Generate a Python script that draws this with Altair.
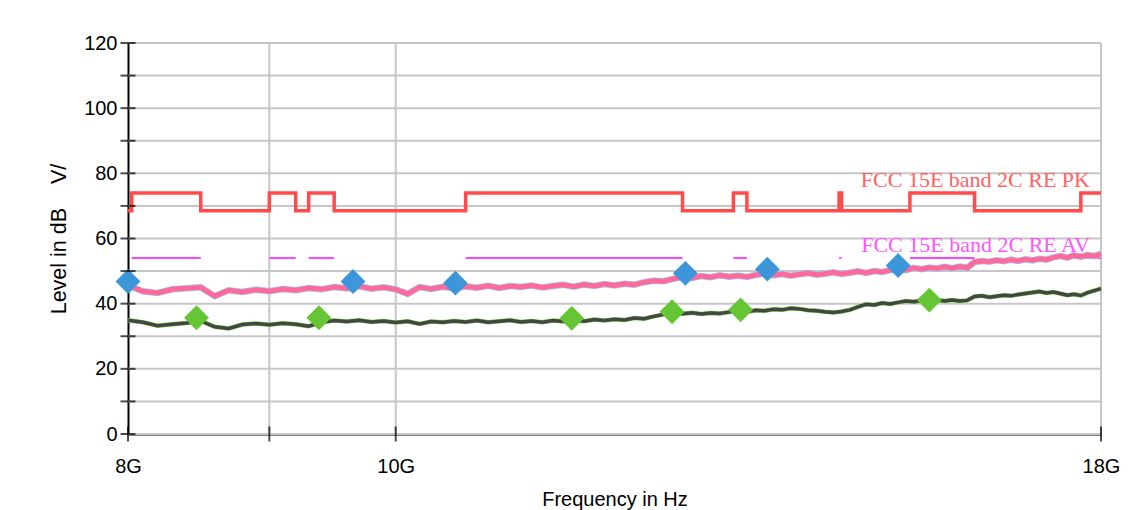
import altair as alt
import pandas as pd

# ---------------- data ----------------
freq_ghz = [8.0, 8.1, 8.2, 8.3, 8.4, 8.5, 8.6, 8.7, 8.8, 8.9,
            9.0, 9.1, 9.2, 9.3, 9.4, 9.5, 9.6, 9.7, 9.8, 9.9,
            10.0, 10.1, 10.2, 10.3, 10.4, 10.5, 10.6, 10.7, 10.8, 10.9,
            11.0, 11.1, 11.2, 11.3, 11.4, 11.5, 11.6, 11.7, 11.8, 11.9,
            12.0, 12.1, 12.2, 12.3, 12.4, 12.5, 12.6, 12.7, 12.8, 12.9,
            13.0, 13.1, 13.2, 13.3, 13.4, 13.5, 13.6, 13.7, 13.8, 13.9,
            14.0, 14.1, 14.2, 14.3, 14.4, 14.5, 14.6, 14.7, 14.8, 14.9,
            15.0, 15.1, 15.2, 15.3, 15.4, 15.5, 15.6, 15.7, 15.8, 15.9,
            16.0, 16.1, 16.2, 16.3, 16.4, 16.5, 16.6, 16.7, 16.8, 16.9,
            17.0, 17.1, 17.2, 17.3, 17.4, 17.5, 17.6, 17.7, 17.8, 17.9,
            18.0]

peak_level = [45.6, 43.8, 43.3, 44.4, 44.7, 45.0, 42.3, 44.1, 43.6, 44.3,
              43.8, 44.5, 44.1, 44.8, 44.4, 45.1, 44.7, 45.3, 44.6, 45.0,
              44.4, 43.0, 45.1, 44.5, 45.2, 44.7, 45.3, 44.9, 45.5, 44.8,
              45.4, 45.1, 45.6, 45.0, 45.4, 45.8, 45.2, 45.9, 45.4, 46.0,
              45.6, 46.1, 45.8, 46.6, 47.0, 46.9, 47.6, 48.2, 47.9, 48.5,
              48.1, 48.7, 48.3, 48.6, 48.2, 48.8, 49.3, 48.7, 49.1, 48.6,
              49.0, 49.4, 48.9, 49.2, 49.6, 49.1, 49.5, 49.9, 49.4, 50.0,
              49.7, 50.3, 50.8, 50.3, 51.0, 50.6, 51.1, 50.8, 51.3, 50.9,
              51.4, 51.0, 52.8, 53.1, 52.9, 53.3, 53.0, 53.5, 53.1, 53.6,
              53.3, 53.8, 53.5, 54.2, 54.6, 54.1, 54.8, 54.4, 54.9, 54.6,
              55.3]

avg_level = [34.9, 34.3, 33.2, 33.7, 34.1, 34.7, 32.9, 32.4, 33.6, 33.9,
             33.5, 34.0, 33.7, 33.1, 34.3, 34.8, 34.5, 34.9, 34.4, 34.7,
             34.2, 34.6, 33.8, 34.5, 34.3, 34.7, 34.4, 34.8, 34.3, 34.6,
             34.9, 34.4, 34.7, 34.3, 34.8, 34.5, 34.9, 34.6, 35.1, 34.8,
             35.2, 35.0, 35.6, 35.4, 36.1, 36.7, 37.3, 36.9, 37.2, 36.8,
             37.1, 37.0, 37.4, 37.8, 37.5, 38.0, 37.8, 38.3, 38.1, 38.6,
             38.4, 38.0, 37.8, 37.5, 37.3, 37.6, 38.1, 39.0, 39.8, 39.6,
             40.2, 39.9, 40.4, 40.8, 40.6, 41.0, 41.4, 41.1, 40.8, 41.1,
             40.8, 41.0, 42.2, 42.4, 42.0, 42.3, 42.6, 42.4, 42.8, 43.1,
             43.4, 43.7, 43.3, 43.6, 43.1, 42.6, 42.9, 42.5, 43.4, 44.0,
             44.6]

peak_marker_freq = [8.0, 9.65, 10.51, 12.73, 13.63, 15.20]
peak_marker_level = [46.8, 46.8, 46.3, 49.3, 50.6, 51.7]
avg_marker_freq = [8.47, 9.38, 11.58, 12.59, 13.33, 15.60]
avg_marker_level = [35.7, 35.7, 35.5, 37.5, 38.1, 41.1]

pk_limit_freq = [8.0, 8.025, 8.5, 9.0, 9.2, 9.3, 9.5, 10.6, 12.7, 13.25,
                 13.4, 14.47, 14.5, 15.35, 16.2, 17.7, 18.0]
pk_limit_level = [68.5, 74, 68.5, 74, 68.5, 74, 68.5, 74, 68.5, 74,
                  68.5, 74, 68.5, 74, 68.5, 74, 74]

av_band_start = [8.025, 9.0, 9.3, 10.6, 13.25, 14.47, 15.35, 17.7]
av_band_end = [8.5, 9.2, 9.5, 12.7, 13.4, 14.5, 16.2, 18.0]
av_limit_level = 54

x_tick_values = [8, 9, 10, 18]
x_tick_labels = ["8G", "", "10G", "18G"]
x_grid_values = [9, 10, 18]
y_tick_values = [0, 10, 20, 30, 40, 50, 60, 70, 80, 90, 100, 110, 120]

limit_names = ["FCC 15E band 2C RE PK", "FCC 15E band 2C RE AV"]
limit_label_levels = [74, 54]

# ---------------- tables ----------------
trace_df = pd.DataFrame({"f": freq_ghz, "pk": peak_level, "av": avg_level})
pk_mark_df = pd.DataFrame({"f": peak_marker_freq, "lvl": peak_marker_level})
av_mark_df = pd.DataFrame({"f": avg_marker_freq, "lvl": avg_marker_level})
pk_lim_df = pd.DataFrame({"f": pk_limit_freq, "lvl": pk_limit_level})
av_lim_df = pd.DataFrame({"f": av_band_start, "f2": av_band_end,
                          "lvl": [av_limit_level] * len(av_band_start)})
xt_df = pd.DataFrame({"f": x_tick_values, "lvl": [0] * len(x_tick_values)})
yt_df = pd.DataFrame({"f": [8] * len(y_tick_values), "lvl": y_tick_values})
ygrid_df = pd.DataFrame({"lvl": y_tick_values})
xgrid_df = pd.DataFrame({"f": x_grid_values})
lbl_df = pd.DataFrame({"f": [18, 18], "lvl": limit_label_levels,
                       "name": limit_names, "c": ["#ff6262", "#ff55ff"]})

FONT = "Liberation Sans"
GRID = "#c6c6c6"

label_expr = " : ".join(
    f"datum.value == {v} ? '{l}'" for v, l in zip(x_tick_values, x_tick_labels)
) + " : ''"

xscale = alt.Scale(type="log", domain=[8, 18], nice=False, zero=False)
yscale = alt.Scale(domain=[0, 120], nice=False, zero=True)

x_axis = alt.Axis(values=x_tick_values, labelExpr=label_expr, title="Frequency in Hz",
                  grid=False, ticks=False, domain=True, domainColor="black", domainWidth=2,
                  labelPadding=22, titlePadding=13, labelFont=FONT, titleFont=FONT,
                  labelFontSize=20, titleFontSize=20, labelColor="black", titleColor="black",
                  titleFontWeight="normal", labelFlush=False, labelOverlap=False)
y_axis = alt.Axis(values=y_tick_values,
                  labelExpr="datum.value % 20 == 0 ? datum.label : ''",
                  title="Level in dB\u00a0\u00a0\u00a0\u00a0V/", grid=False, ticks=False, domain=True,
                  domainColor="black", domainWidth=2, labelPadding=11, titlePadding=13,
                  labelFont=FONT, titleFont=FONT, labelFontSize=20, titleFontSize=21.5,
                  labelColor="black", titleColor="black", titleFontWeight="normal",
                  labelOverlap=False)

frame = alt.Chart(pd.DataFrame({"a": [0]})).mark_rect(
    fill="transparent", stroke="#cfcfcf", strokeWidth=2
).encode(x=alt.value(-123), x2=alt.value(1015), y=alt.value(-36), y2=alt.value(490))

ygrid = alt.Chart(ygrid_df).mark_rule(color=GRID, strokeWidth=2).encode(
    y=alt.Y("lvl:Q", scale=yscale, axis=y_axis))
xgrid = alt.Chart(xgrid_df).mark_rule(color=GRID, strokeWidth=2).encode(
    x=alt.X("f:Q", scale=xscale, axis=x_axis))

pk_limit = alt.Chart(pk_lim_df).mark_line(
    color="#ff4b4b", strokeWidth=3.5, interpolate="step-after"
).encode(x=alt.X("f:Q", scale=xscale), y=alt.Y("lvl:Q", scale=yscale))

av_limit = alt.Chart(av_lim_df).mark_rule(color="#ff44ff", strokeWidth=2).encode(
    x=alt.X("f:Q", scale=xscale), x2="f2:Q", y=alt.Y("lvl:Q", scale=yscale))

pk_under = alt.Chart(trace_df).mark_line(color="#9cc8f5", strokeWidth=6.5).encode(
    x=alt.X("f:Q", scale=xscale), y=alt.Y("pk:Q", scale=yscale))
pk_line = alt.Chart(trace_df).mark_line(color="#ff6a9a", strokeWidth=5).encode(
    x=alt.X("f:Q", scale=xscale), y=alt.Y("pk:Q", scale=yscale))
av_under = alt.Chart(trace_df).mark_line(color="#7ad64a", strokeWidth=4.5).encode(
    x=alt.X("f:Q", scale=xscale), y=alt.Y("av:Q", scale=yscale))
av_line = alt.Chart(trace_df).mark_line(color="#454545", strokeWidth=3.5).encode(
    x=alt.X("f:Q", scale=xscale), y=alt.Y("av:Q", scale=yscale))

pk_marks = alt.Chart(pk_mark_df).mark_point(
    shape="diamond", filled=True, size=620, color="#3d96d9", opacity=1
).encode(x=alt.X("f:Q", scale=xscale), y=alt.Y("lvl:Q", scale=yscale))
av_marks = alt.Chart(av_mark_df).mark_point(
    shape="diamond", filled=True, size=620, color="#66c535", opacity=1
).encode(x=alt.X("f:Q", scale=xscale), y=alt.Y("lvl:Q", scale=yscale))

labels = alt.Chart(lbl_df).mark_text(
    align="right", baseline="alphabetic", dx=-11, dy=-6,
    font="Liberation Serif", fontSize=22
).encode(x=alt.X("f:Q", scale=xscale), y=alt.Y("lvl:Q", scale=yscale),
         text="name:N", color=alt.Color("c:N", scale=None))

x_ticks = alt.Chart(xt_df).mark_tick(orient="vertical", size=15, thickness=2, color="black").encode(
    x=alt.X("f:Q", scale=xscale), y=alt.Y("lvl:Q", scale=yscale))
y_ticks = alt.Chart(yt_df).mark_tick(orient="horizontal", size=15, thickness=2, color="black").encode(
    x=alt.X("f:Q", scale=xscale), y=alt.Y("lvl:Q", scale=yscale))

chart = alt.layer(
    frame, ygrid, xgrid, pk_limit, av_limit, pk_under, pk_line, av_under, av_line,
    pk_marks, av_marks, labels, x_ticks, y_ticks
).properties(
    width=973, height=391,
    autosize=alt.AutoSizeParams(type="none"),
    padding={"left": 120, "top": 35, "right": 30, "bottom": 100},
    background="white"
).configure_view(stroke="transparent")

chart.save("out.html", embed_options={"renderer": "svg", "actions": False})
